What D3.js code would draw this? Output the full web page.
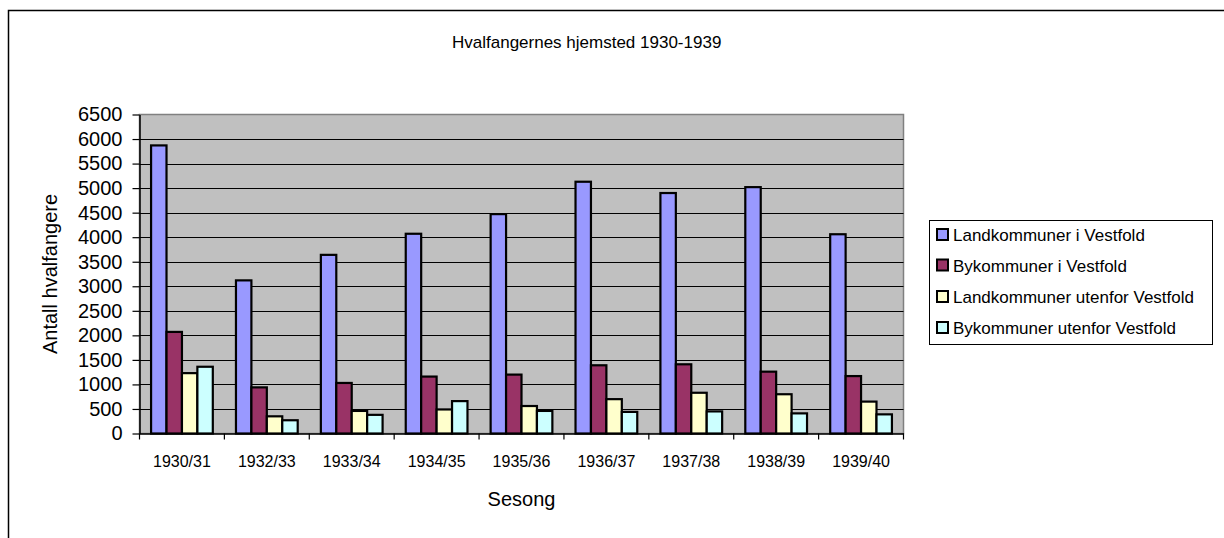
<!DOCTYPE html>
<html>
<head>
<meta charset="utf-8">
<script src="https://cdn.jsdelivr.net/npm/d3@7"></script>
<style>
  html, body { margin: 0; padding: 0; background: #fff; }
  svg { display: block; }
  text { font-family: Arial, "Liberation Sans", sans-serif; fill: #000; }
</style>
</head>
<body>
<script>
// ---- Data ----
const categories = ["1930/31","1932/33","1933/34","1934/35","1935/36","1936/37","1937/38","1938/39","1939/40"];
const seriesNames = ["Landkommuner i Vestfold","Bykommuner i Vestfold","Landkommuner utenfor Vestfold","Bykommuner utenfor Vestfold"];
const landVestfold  = [5870, 3120, 3640, 4070, 4470, 5130, 4900, 5020, 4060];
const byVestfold    = [2070,  940, 1030, 1160, 1200, 1390, 1410, 1260, 1170];
const landUtenfor   = [1230,  350,  460,  490,  560,  700,  830,  800,  650];
const byUtenfor     = [1360,  270,  380,  660,  460,  440,  450,  410,  390];
const yTicks = [0,500,1000,1500,2000,2500,3000,3500,4000,4500,5000,5500,6000,6500];
const seriesColors = ["#9999FF","#993366","#FFFFCC","#CCFFFF"];
const titleText = "Hvalfangernes hjemsted 1930-1939";
const xTitle = "Sesong";
const yTitle = "Antall hvalfangere";

const seriesValues = [landVestfold, byVestfold, landUtenfor, byUtenfor];

const W = 1224, H = 538;
const FONT = "Arial, 'Liberation Sans', sans-serif";
const svg = d3.select("body").append("svg").attr("width", W).attr("height", H);

// chart area border (extends past viewport right/bottom)
svg.append("path")
  .attr("d", `M8.5,${H+5} L8.5,10.5 L${W+5},10.5`)
  .attr("fill", "none").attr("stroke", "#000").attr("stroke-width", 1.5);

const plot = {left: 139.5, right: 903.5, top: 114.5, bottom: 433.5};

const x = d3.scaleBand().domain(categories).range([plot.left, plot.right]).padding(0);
const xs = d3.scaleBand().domain(seriesNames).range([0, x.bandwidth()]).paddingInner(0).paddingOuter(0.75);
const y = d3.scaleLinear().domain([0, 6500]).range([plot.bottom, plot.top]);

// plot area background
svg.append("rect")
  .attr("x", plot.left).attr("y", plot.top)
  .attr("width", plot.right - plot.left).attr("height", plot.bottom - plot.top)
  .attr("fill", "#C0C0C0").attr("stroke", "#808080").attr("stroke-width", 1.5);

// gridlines
svg.append("g").selectAll("line")
  .data(yTicks.filter(d => d > 0 && d < 6500))
  .join("line")
  .attr("x1", plot.left).attr("x2", plot.right)
  .attr("y1", d => Math.round(y(d)) + 0.5).attr("y2", d => Math.round(y(d)) + 0.5)
  .attr("stroke", "#000").attr("stroke-width", 1);

// bars
const groups = svg.append("g").selectAll("g")
  .data(seriesNames.map((name, i) => ({name, i, values: seriesValues[i]})))
  .join("g");
groups.selectAll("rect")
  .data(s => s.values.map((v, j) => ({v, cat: categories[j], name: s.name, i: s.i})))
  .join("rect")
  .attr("x", d => x(d.cat) + xs(d.name))
  .attr("y", d => y(d.v))
  .attr("width", xs.bandwidth())
  .attr("height", d => y(0) - y(d.v))
  .attr("fill", d => seriesColors[d.i])
  .attr("stroke", "#000").attr("stroke-width", 2.2);

// y axis
const yAxis = d3.axisLeft(y).tickValues(yTicks).tickFormat(d3.format("d"))
  .tickSize(7).tickSizeOuter(0).tickPadding(10);
const gy = svg.append("g").attr("transform", `translate(${plot.left},0)`).call(yAxis);
gy.select(".domain").attr("stroke", "#000").attr("stroke-width", 1.5);
gy.selectAll(".tick line").attr("stroke", "#000").attr("stroke-width", 1.2);
gy.selectAll(".tick text").attr("font-size", "20px").attr("font-family", FONT).attr("fill", "#000");

// x axis
const xAxis = d3.axisBottom(x).tickSize(0).tickPadding(22);
const gx = svg.append("g").attr("transform", `translate(0,${plot.bottom})`).call(xAxis);
gx.select(".domain").attr("stroke", "#000").attr("stroke-width", 1.5);
gx.selectAll(".tick text").attr("font-size", "16px").attr("font-family", FONT).attr("fill", "#000");
// category boundary ticks
svg.append("g").selectAll("line")
  .data(categories.concat(["__end"]))
  .join("line")
  .attr("x1", (d, i) => plot.left + i * x.step())
  .attr("x2", (d, i) => plot.left + i * x.step())
  .attr("y1", plot.bottom).attr("y2", plot.bottom + 6)
  .attr("stroke", "#000").attr("stroke-width", 1.2);

// title
svg.append("text").attr("x", 452).attr("y", 48).attr("font-size", "17px").text(titleText);

// axis titles
svg.append("text").attr("x", (plot.left + plot.right) / 2).attr("y", 506)
  .attr("text-anchor", "middle").attr("font-size", "20px").text(xTitle);
svg.append("text")
  .attr("transform", `translate(57,${(plot.top + plot.bottom) / 2}) rotate(-90)`)
  .attr("text-anchor", "middle").attr("font-size", "20px").text(yTitle);

// legend
const lg = svg.append("g");
lg.append("rect").attr("x", 929.5).attr("y", 220.5).attr("width", 283).attr("height", 124)
  .attr("fill", "#fff").attr("stroke", "#000").attr("stroke-width", 1);
const rowY = [235, 265.5, 297, 328];
const items = lg.selectAll("g.item").data(seriesNames).join("g").attr("class", "item");
items.append("rect")
  .attr("x", 937).attr("y", (d, i) => rowY[i] - 6)
  .attr("width", 11).attr("height", 11)
  .attr("fill", (d, i) => seriesColors[i]).attr("stroke", "#000").attr("stroke-width", 2);
items.append("text")
  .attr("x", 953).attr("y", (d, i) => rowY[i] + 6)
  .attr("font-size", "17px").text(d => d);
</script>
</body>
</html>
